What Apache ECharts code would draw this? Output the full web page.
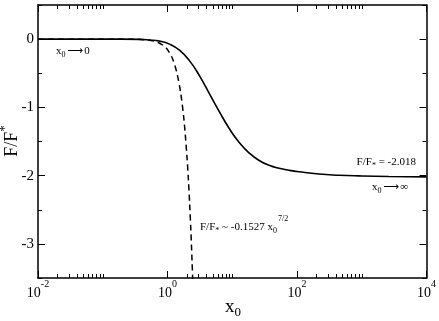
<!DOCTYPE html>
<html><head><meta charset="utf-8">
<script src="https://cdn.jsdelivr.net/npm/echarts@6/dist/echarts.min.js"></script>
<style>html,body{margin:0;padding:0;background:#fff}#c{width:439px;height:321px}</style>
</head><body><div id="c"></div>
<script>
// ---- data ----
const solidX = [0.01, 0.1, 0.371, 0.528, 0.753, 1.074, 1.53, 2.181, 3.107, 4.429, 6.31, 8.991, 12.81, 18.26, 26.02, 37.08, 52.85, 75.32, 107.3, 218, 442.9, 899, 2603, 10000];
const solidY = [0, 0, -0.003, -0.012, -0.029, -0.073, -0.161, -0.315, -0.534, -0.798, -1.061, -1.310, -1.515, -1.669, -1.779, -1.849, -1.893, -1.922, -1.944, -1.977, -1.994, -2.004, -2.013, -2.018];
const dashX = [0.01, 0.1, 0.3, 0.5, 0.7, 0.9, 1.0, 1.2, 1.4, 1.6, 1.8, 2.0, 2.1, 2.2, 2.3, 2.4, 2.45];
const dashY = [0, 0, -0.002, -0.013, -0.044, -0.106, -0.153, -0.29, -0.50, -0.79, -1.19, -1.73, -2.05, -2.42, -2.82, -3.28, -3.52];
const xMajorTicks = [0.01, 1, 100, 10000];
const xMinorDecades = [-2, 0, 2];
const xMinorMult = [2, 3, 4, 5, 6, 7, 8, 9, 10];
const yMajorTicks = [-3, -2, -1, 0];
const yMinorTicks = [-3.5, -2.5, -1.5, -0.5, 0.5];

const FONT = 'Liberation Serif';
const xMinorLog = [];
xMinorDecades.forEach(d => xMinorMult.forEach(m => xMinorLog.push(d + Math.log10(m))));

const chart = echarts.init(document.getElementById('c'));
const lineCol = '#000';
const grid = {left: 38, right: 11, top: 5, bottom: 43};

function supLabel(v) {
  const e = Math.round(Math.log10(v));
  return '{b|10}{s|' + e + '}';
}
const supRich = {
  b: {fontFamily: FONT, fontSize: 14, color: '#000', lineHeight: 16, verticalAlign: 'bottom'},
  s: {fontFamily: FONT, fontSize: 10, color: '#000', lineHeight: 10, verticalAlign: 'bottom', padding: [0, 0, 11, 0]}
};
// rich styles for small annotations: base, subscript, superscript, arrow
const annRich = {
  b: {fontFamily: FONT, fontSize: 11, color: '#000', lineHeight: 12, verticalAlign: 'bottom', padding: [0, 0, 2, 0]},
  s: {fontFamily: FONT, fontSize: 8, color: '#000', lineHeight: 8, verticalAlign: 'bottom'},
  p: {fontFamily: FONT, fontSize: 8, color: '#000', lineHeight: 8, verticalAlign: 'bottom', padding: [0, 0, 12, 1]},
  a: {fontFamily: 'DejaVu Sans', fontSize: 11, color: '#000', lineHeight: 12, verticalAlign: 'bottom', padding: [0, 1, 2, 2]}
};

const baseX = {
  type: 'log', logBase: 100, min: 0.01, max: 10000, gridIndex: 0,
  splitLine: {show: false},
  axisLine: {onZero: false, lineStyle: {color: lineCol, width: 1.5}},
  axisTick: {inside: true, length: 7, lineStyle: {color: lineCol, width: 1}},
};
const minorX = {
  type: 'value', min: -2, max: 4, gridIndex: 0,
  splitLine: {show: false},
  axisLine: {show: false, onZero: false},
  axisLabel: {show: false},
  axisTick: {inside: true, length: 4, customValues: xMinorLog, lineStyle: {color: lineCol, width: 1}}
};
const baseY = {
  type: 'value', min: -3.5, max: 0.5, gridIndex: 0,
  splitLine: {show: false},
  axisLine: {onZero: false, lineStyle: {color: lineCol, width: 1.5}},
  axisTick: {inside: true, length: 7, customValues: yMajorTicks, lineStyle: {color: lineCol, width: 1}},
};
const minorY = {
  type: 'value', min: -3.5, max: 0.5, gridIndex: 0,
  splitLine: {show: false},
  axisLine: {show: false, onZero: false},
  axisLabel: {show: false},
  axisTick: {inside: true, length: 4, customValues: yMinorTicks, lineStyle: {color: lineCol, width: 1}}
};

const option = {
  animation: false,
  backgroundColor: '#fff',
  grid: grid,
  xAxis: [
    Object.assign({}, baseX, {position: 'bottom',
      axisLabel: {formatter: supLabel, rich: supRich, margin: 6}}),
    Object.assign({}, baseX, {position: 'top', axisLabel: {show: false}}),
    Object.assign({}, minorX, {position: 'bottom'}),
    Object.assign({}, minorX, {position: 'top'})
  ],
  yAxis: [
    Object.assign({}, baseY, {position: 'left',
      axisLabel: {customValues: yMajorTicks, fontFamily: FONT, fontSize: 15, color: '#000', margin: 4}}),
    Object.assign({}, baseY, {position: 'right', axisLabel: {show: false}}),
    Object.assign({}, minorY, {position: 'left'}),
    Object.assign({}, minorY, {position: 'right'})
  ],
  series: [
    {type: 'line', xAxisIndex: 0, yAxisIndex: 0, showSymbol: false, smooth: 0.5,
     data: solidX.map((x, i) => [x, solidY[i]]),
     lineStyle: {color: '#000', width: 1.6}},
    {type: 'line', xAxisIndex: 0, yAxisIndex: 0, showSymbol: false, smooth: 0.3, clip: true,
     data: dashX.map((x, i) => [x, dashY[i]]),
     lineStyle: {color: '#000', width: 1.5, type: [6, 4]}}
  ],
  graphic: [
    {type: 'text', x: 12, y: 141, rotation: Math.PI / 2,
     style: {text: '{b|F/F}{p|*}', textAlign: 'center', textVerticalAlign: 'middle',
       rich: {b: {fontFamily: FONT, fontSize: 18, color: '#000', lineHeight: 18, verticalAlign: 'bottom'},
              p: {fontFamily: FONT, fontSize: 13, color: '#000', lineHeight: 10, verticalAlign: 'bottom', padding: [0, 0, 10, 0]}}}},
    {type: 'text', x: 233, y: 307,
     style: {text: '{b|x}{s|0}', textAlign: 'center', textVerticalAlign: 'middle',
       rich: {b: {fontFamily: FONT, fontSize: 19, color: '#000', lineHeight: 18, verticalAlign: 'top'},
              s: {fontFamily: FONT, fontSize: 13, color: '#000', lineHeight: 12, verticalAlign: 'top', padding: [8, 0, 0, 0]}}}},
    {type: 'text', x: 56, y: 53,
     style: {text: '{b|x}{s|0}{a|\u27F6}{b|0}', textAlign: 'left', textVerticalAlign: 'middle', rich: annRich}},
    {type: 'text', x: 416, y: 164,
     style: {text: '{b|F/F}{s|*}{b| = -2.018}', textAlign: 'right', textVerticalAlign: 'middle', rich: annRich}},
    {type: 'text', x: 372, y: 189,
     style: {text: '{b|x}{s|0}{a|\u27F6}{b|\u221E}', textAlign: 'left', textVerticalAlign: 'middle', rich: annRich}},
    {type: 'text', x: 200, y: 229,
     style: {text: '{b|F/F}{s|*}{b| ~ -0.1527 x}{s|0}{p|7/2}', textAlign: 'left', textVerticalAlign: 'middle', rich: annRich}}
  ]
};
chart.setOption(option);
</script>
</body></html>
